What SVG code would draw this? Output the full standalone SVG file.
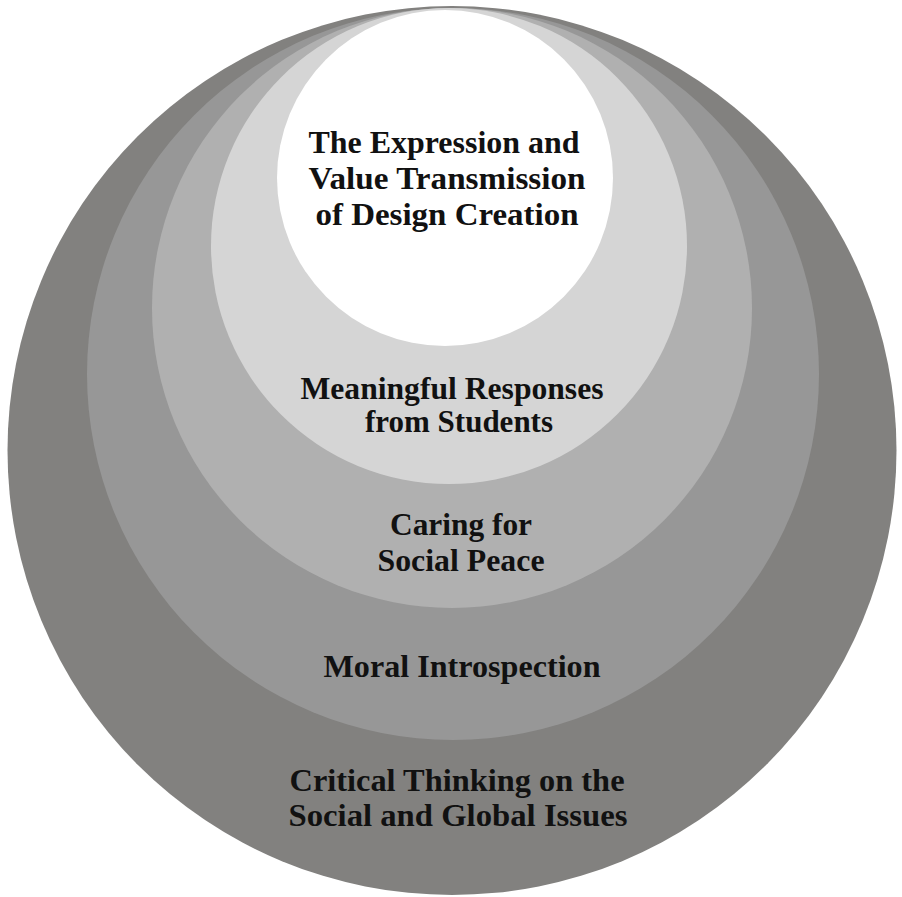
<svg xmlns="http://www.w3.org/2000/svg" width="902" height="897" viewBox="0 0 902 897">
  <style>
    .lbl { font-family: "Liberation Serif", "Times New Roman", serif; font-weight: bold; font-size: 32px; fill: #111111; text-anchor: middle; }
  </style>
  <rect width="902" height="897" fill="#ffffff"/>

  <!-- nested layers, all tangent near the top -->
  <g id="layer-critical-thinking">
    <circle cx="452" cy="450.5" r="444.5" fill="#82817f"/>
    <text class="lbl" x="457" y="791" textLength="335" lengthAdjust="spacingAndGlyphs">Critical Thinking on the</text>
    <text class="lbl" x="458" y="826" textLength="339" lengthAdjust="spacingAndGlyphs">Social and Global Issues</text>
  </g>

  <g id="layer-moral-introspection">
    <circle cx="453" cy="374" r="366" fill="#979797"/>
    <text class="lbl" x="462" y="677" textLength="277" lengthAdjust="spacingAndGlyphs">Moral Introspection</text>
  </g>

  <g id="layer-social-peace">
    <circle cx="452" cy="308" r="300" fill="#b0b0b0"/>
    <text class="lbl" x="461" y="535" textLength="142" lengthAdjust="spacingAndGlyphs">Caring for</text>
    <text class="lbl" x="461" y="571" textLength="167" lengthAdjust="spacingAndGlyphs">Social Peace</text>
  </g>

  <g id="layer-student-responses">
    <circle cx="449" cy="246" r="238" fill="#d5d5d5"/>
    <text class="lbl" x="452" y="399" textLength="303" lengthAdjust="spacingAndGlyphs">Meaningful Responses</text>
    <text class="lbl" x="459" y="432" textLength="188" lengthAdjust="spacingAndGlyphs">from Students</text>
  </g>

  <g id="layer-design-creation">
    <circle cx="445" cy="178" r="168" fill="#ffffff"/>
    <text class="lbl" x="444" y="153" textLength="271" lengthAdjust="spacingAndGlyphs">The Expression and</text>
    <text class="lbl" x="447" y="189" textLength="277" lengthAdjust="spacingAndGlyphs">Value Transmission</text>
    <text class="lbl" x="447" y="225" textLength="263" lengthAdjust="spacingAndGlyphs">of Design Creation</text>
  </g>

  <g id="connectors"/>
</svg>
